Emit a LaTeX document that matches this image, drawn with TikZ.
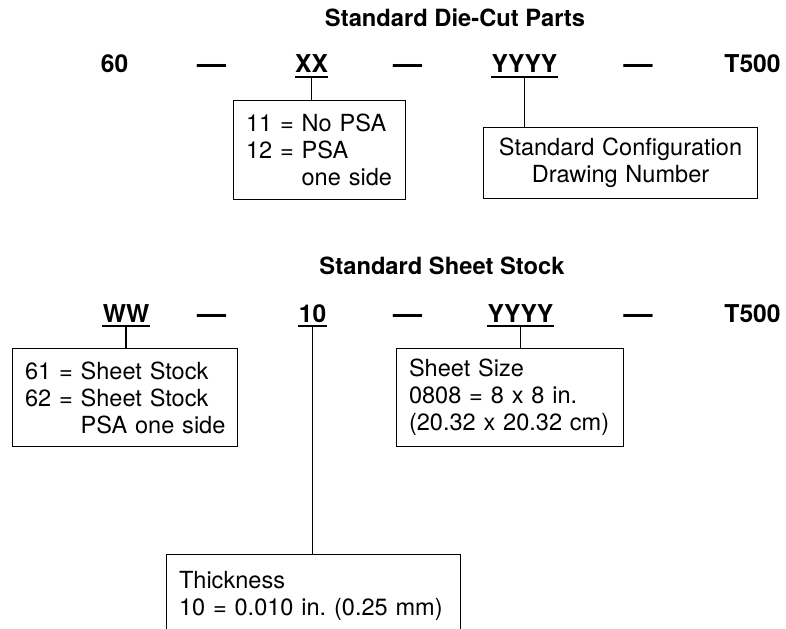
\documentclass[tikz,border=0pt]{standalone}
\usepackage{fontspec}
\setmainfont{TeX Gyre Heros}

\begin{document}
\begin{tikzpicture}[x=0.02cm,y=-0.02cm,line width=0.6pt,
  heading/.style={font=\bfseries\fontsize{13.5}{16}\selectfont,inner sep=0pt,anchor=base},
  code/.style={font=\bfseries\fontsize{14}{17}\selectfont,inner sep=0pt,anchor=base},
  sepdash/.style={font=\bfseries\fontsize{16.5}{17}\selectfont,inner sep=0pt,anchor=base},
  keybox/.style={draw,anchor=north west,inner xsep=0.25cm,inner ysep=0pt,align=left,
    font=\fontsize{13.4}{15.4}\selectfont\frenchspacing},
  uline/.style={line width=1.2pt}]
\useasboundingbox (0,0) rectangle (786,628);
\clip (0,0) rectangle (786,628);
% die-cut parts
\node[heading] (diecut) at (455.000,27.000) {Standard Die-Cut Parts};
\node[code] (sixty) at (114.500,73.000) {60};
\node[sepdash] (da) at (211.500,74.000) {—};
\node[code] (xx) at (311.500,73.000) {XX};
\node[sepdash] (db) at (407.500,74.000) {—};
\node[code] (yyyy) at (524.500,73.000) {YYYY};
\node[sepdash] (dc) at (638.000,74.000) {—};
\node[code] (tfive) at (752.500,73.000) {T500};
\node[keybox,text width=2.94cm,minimum height=1.98cm] (psabox) at (233.000,100.000)
  {11~=~No~PSA\\12~=~PSA\\\phantom{12~=~}one~side};
\node[keybox,align=center,text width=4.98cm,minimum height=1.42cm] (cfgbox) at (483.000,127.000)
  {Standard Configuration\\Drawing Number};
% sheet stock
\node[heading] (sheet) at (442.000,274.000) {Standard Sheet Stock};
\node[code] (ww) at (126.000,322.000) {WW};
\node[sepdash] (dd) at (211.500,323.000) {—};
\node[code] (ten) at (312.500,322.000) {10\ };
\node[sepdash] (de) at (407.500,323.000) {—};
\node[code] (sheetyyyy) at (520.500,322.000) {YYYY};
\node[sepdash] (df) at (638.000,323.000) {—};
\node[code] (sheettfive) at (752.500,322.000) {T500};
\node[keybox,text width=4.00cm,minimum height=1.96cm] (wwbox) at (12.000,348.000)
  {61~=~Sheet~Stock\\62~=~Sheet~Stock\\\phantom{62~=~}PSA~one~side};
\node[keybox,text width=4.04cm,minimum height=1.96cm] (sizebox) at (396.000,348.000)
  {Sheet~Size\\0808~=~8~x~8~in.\\(20.32~x~20.32~cm)};
\node[keybox,text width=5.38cm,minimum height=1.64cm] (thickbox) at (166.000,554.000)
  {Thickness\\10~=~0.010~in.~(0.25~mm)};
% underlines and leaders
\foreach \n in {xx,yyyy,ww,ten,sheetyyyy}
  \draw[uline] ([yshift=-2.5pt]\n.base west) -- ([yshift=-2.5pt]\n.base east);
\draw ([yshift=-2.5pt]xx.base) -- (xx.base |- psabox.north);
\draw ([yshift=-2.5pt]yyyy.base) -- (yyyy.base |- cfgbox.north);
\draw ([yshift=-2.5pt]ww.base) -- (ww.base |- wwbox.north);
\draw ([yshift=-2.5pt]ten.base) -- (ten.base |- thickbox.north);
\draw ([yshift=-2.5pt]sheetyyyy.base) -- (sheetyyyy.base |- sizebox.north);
\end{tikzpicture}
\end{document}
